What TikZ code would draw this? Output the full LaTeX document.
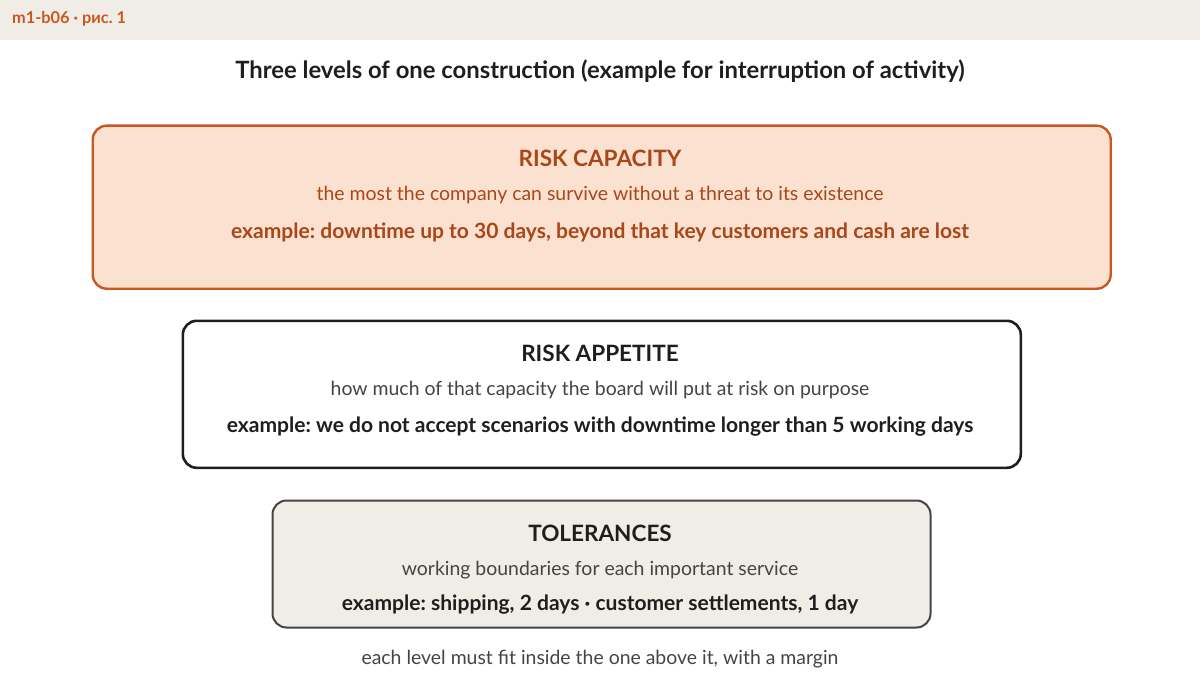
\documentclass[tikz,border=0pt]{standalone}
\usepackage{fontspec}
\setmainfont{Lato}
\frenchspacing
\definecolor{hdrbg}{HTML}{F0EDE7}
\definecolor{rust}{HTML}{C8581E}
\definecolor{rustdark}{HTML}{A9461A}
\definecolor{peach}{HTML}{FBE1CF}
\definecolor{ink}{HTML}{1E1E1E}
\definecolor{greyink}{HTML}{444444}
\definecolor{sand}{HTML}{F0EDE7}
\tikzset{
  lvlbox/.style={rounded corners=14bp, line width=2.4bp, inner sep=0pt, anchor=north west},
  heading/.style={font=\fontsize{22.6}{26}\selectfont\bfseries, inner sep=0pt},
  desc/.style={font=\fontsize{19.5}{23}\selectfont, inner sep=0pt},
  examp/.style={font=\fontsize{21.1}{25}\selectfont\bfseries, inner sep=0pt},
}
\begin{document}
\begin{tikzpicture}[x=1bp,y=-1bp]
\useasboundingbox (0,0) rectangle (1200,684);
\fill[hdrbg] (0,0) rectangle (1200,40);
\node[anchor=west, inner sep=0pt, text=rust, font=\fontsize{16.4}{19}\selectfont\bfseries] (tag) at (12,19) {m1-b06 · рис. 1};
\node[inner sep=0pt, text=ink, font=\fontsize{23.9}{28}\selectfont\bfseries] (title) at (600,71) {Three levels of one construction (example for interruption of activity)};

% box 1
\node[lvlbox, draw=rust, fill=peach, minimum width=1018bp, minimum height=163bp] (b1) at (91.5,124.5) {};
\node[heading, text=rustdark] (h1) at (600,158) {RISK CAPACITY};
\node[desc, text=rustdark] (d1) at (600,195) {the most the company can survive without a threat to its existence};
\node[examp, text=rustdark] (e1) at (600,232) {example: downtime up to 30 days, beyond that key customers and cash are lost};

% box 2
\node[lvlbox, draw=ink, fill=white, line width=2.6bp, minimum width=838bp, minimum height=147bp] (b2) at (181.5,319.5) {};
\node[heading, text=ink] (h2) at (600,353) {RISK APPETITE};
\node[desc, text=greyink] (d2) at (600,390) {how much of that capacity the board will put at risk on purpose};
\node[examp, text=ink] (e2) at (600,427) {example: we do not accept scenarios with downtime longer than 5 working days};

% box 3
\node[lvlbox, draw=greyink, fill=sand, line width=2bp, minimum width=658bp, minimum height=127bp] (b3) at (271.5,499.5) {};
\node[heading, text=ink] (h3) at (600,533) {TOLERANCES};
\node[desc, text=greyink] (d3) at (600,570) {working boundaries for each important service};
\node[examp, text=ink] (e3) at (600,605) {example: shipping, 2 days · customer settlements, 1 day};

\node[desc, text=greyink] (foot) at (600,659) {each level must fit inside the one above it, with a margin};
\end{tikzpicture}
\end{document}
